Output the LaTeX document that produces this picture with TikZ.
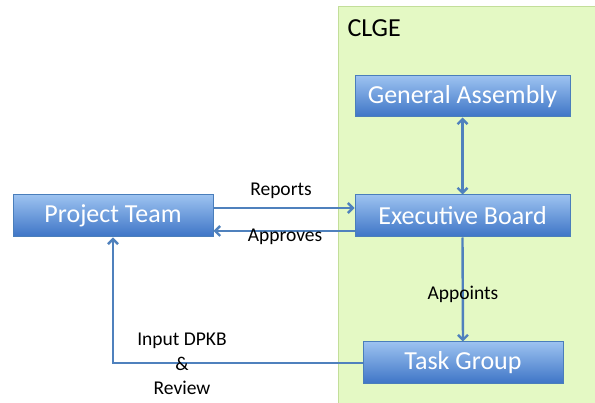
\documentclass[tikz,border=0pt]{standalone}
\usepackage{fontspec}
\setmainfont{Carlito}
\usetikzlibrary{arrows.meta}
\definecolor{boxtop}{HTML}{9CC2F0}
\definecolor{boxbot}{HTML}{3D74C6}
\definecolor{boxline}{HTML}{4A7EBB}
\definecolor{arrowc}{HTML}{4F81BD}
\definecolor{panelfill}{HTML}{E4F9C4}
\definecolor{panelline}{HTML}{C3DE9A}
\begin{document}
\begin{tikzpicture}[x=1pt,y=-1pt,
  bluebox/.style={draw=boxline, line width=1pt, top color=boxtop, bottom color=boxbot,
    text=white, font=\fontsize{26}{28}\selectfont, inner sep=0pt},
  conn/.style={draw=arrowc, line width=2.4pt, -{Straight Barb[length=5pt,width=10pt]}},
  lbl/.style={font=\fontsize{19.5}{22}\selectfont, text=black, align=center}]
\useasboundingbox (0,0) rectangle (595,403);
\fill[white] (0,0) rectangle (595,403);
\draw[panelline, fill=panelfill, line width=1pt] (338,7) rectangle (600,410);
\node[font=\fontsize{26}{28}\selectfont, anchor=west] (clge) at (344,28) {CLGE};
\node[bluebox, minimum width=215, minimum height=41] (ga) at (462.5,96.5) {General Assembly};
\node[bluebox, minimum width=215, minimum height=42] (eb) at (462.5,216) {Executive Board};
\node[bluebox, minimum width=200, minimum height=42] (pt) at (113,216) {Project Team};
\node[bluebox, minimum width=200, minimum height=42] (tg) at (463,363) {Task Group};
\draw[conn, {Straight Barb[length=5pt,width=10pt]}-{Straight Barb[length=5pt,width=10pt]}] (ga.south) -- (eb.north);
\draw[conn] (pt.east |- 0,208) -- (eb.west |- 0,208);
\draw[conn] (eb.west |- 0,231) -- (pt.east |- 0,231);
\node[lbl] (rep) at (281,191) {Reports};
\node[lbl] (app) at (285,237) {Approves};
\draw[conn] (eb.south) -- (tg.north);
\node[lbl] (appt) at (463,294) {Appoints};
\coordinate (corner) at (pt.south |- tg.west);
\draw[conn] (tg.west) -- (corner) -- (pt.south);
\node[lbl, font=\fontsize{19.5}{24.5}\selectfont] (inp) at (182,364) {Input DPKB\\\&\\Review};
\end{tikzpicture}
\end{document}
